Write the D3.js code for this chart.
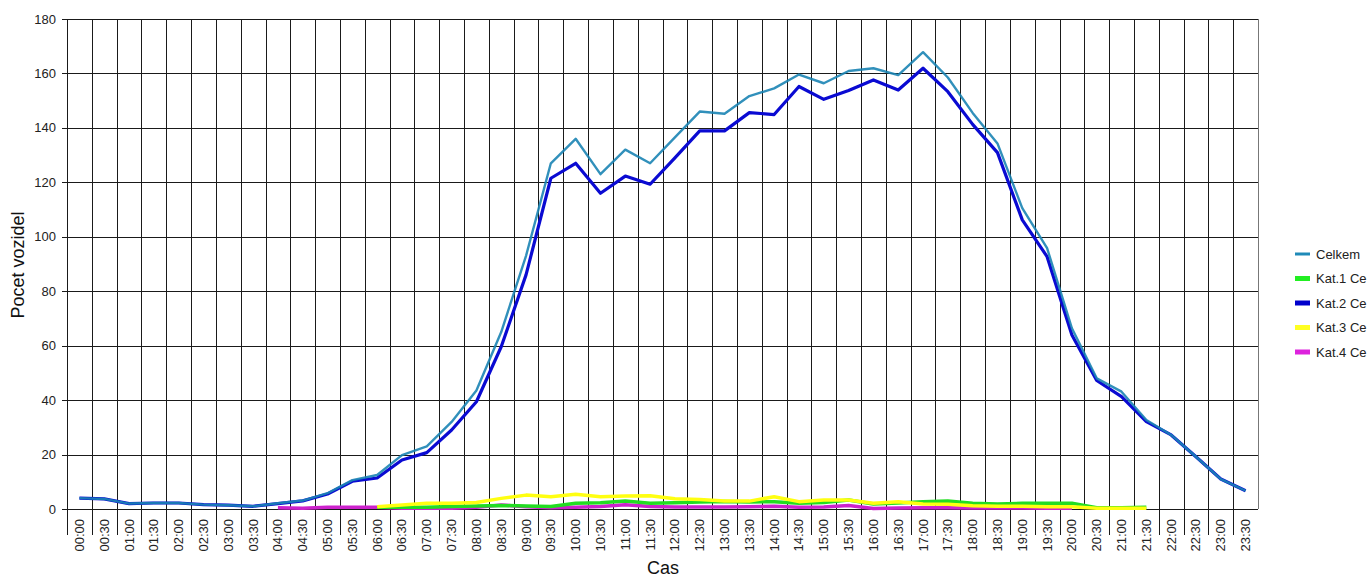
<!DOCTYPE html>
<html>
<head>
<meta charset="utf-8">
<script src="https://cdn.jsdelivr.net/npm/d3@7"></script>
<style>
  html, body { margin: 0; padding: 0; background: #fff; }
  svg { display: block; font-family: "Liberation Sans", Arial, sans-serif; }
</style>
</head>
<body>
<svg id="chart" width="1371" height="581"></svg>
<script>
// ---- data ----
const categories = ["00:00","00:30","01:00","01:30","02:00","02:30","03:00","03:30","04:00","04:30","05:00","05:30",
  "06:00","06:30","07:00","07:30","08:00","08:30","09:00","09:30","10:00","10:30","11:00","11:30",
  "12:00","12:30","13:00","13:30","14:00","14:30","15:00","15:30","16:00","16:30","17:00","17:30",
  "18:00","18:30","19:00","19:30","20:00","20:30","21:00","21:30","22:00","22:30","23:00","23:30"];

const celkem = [4,3.7,2,2.2,2.2,1.6,1.4,1,2.1,3.1,5.8,10.6,
  12.5,19.8,23,32,43.5,65,93,127,136,123,132,127,
  136.5,146,145.2,151.7,154.5,159.6,156.4,160.9,161.9,159.4,167.8,158.5,
  145.5,134.3,110.5,95.8,66.4,48,43.1,32.7,27.2,19.2,11,6.7];

const kat1 = [null,null,null,null,null,null,null,null,null,null,null,null,
  0.6,0.6,0.6,0.9,1.1,1.3,1.1,0.9,2.1,2.3,2.9,2.1,
  2.3,2.6,2.8,2.6,2.7,2.1,2.4,3.3,1.8,2.2,2.7,2.9,
  2.1,1.8,2.1,2.1,2.1,0.5,0.5,0.6,null,null,null,null];

const kat2 = [4,3.7,2,2.2,2.2,1.6,1.4,1,2,3,5.5,10.2,
  11.4,18,20.7,29,39.4,59.6,86,121.5,127,116,122.3,119.3,
  129,138.9,138.9,145.6,144.9,155.2,150.5,153.7,157.6,153.9,161.9,153.3,
  141.3,130.9,106.2,92.7,63.9,47.2,41.3,32.1,27.2,19.2,11,6.7];

const kat3 = [null,null,null,null,null,null,null,null,null,null,null,null,
  0.8,1.5,2.1,2.1,2.4,3.9,5.1,4.5,5.4,4.5,4.8,4.9,
  3.8,3.5,2.9,2.9,4.5,2.7,3.3,3.3,2.1,2.7,1.8,1.7,
  1.2,1.0,1.0,0.8,0.8,0.3,0.3,0.3,null,null,null,null];

const kat4 = [null,null,null,null,null,null,null,null,0.5,0.3,0.6,0.6,
  0.6,0.3,0.3,0.3,0.6,1.5,0.8,0.5,0.6,0.9,1.6,0.9,
  0.7,0.7,0.7,0.8,1.0,0.6,0.7,1.3,0.2,0.4,0.5,0.5,
  0.4,0.4,0.4,0.3,0.3,null,null,null,null,null,null,null];

const yTicks = [0,20,40,60,80,100,120,140,160,180];
const seriesNames = ["Celkem","Kat.1 Ce","Kat.2 Ce","Kat.3 Ce","Kat.4 Ce"];

// ---- layout ----
const svg = d3.select("#chart");
const L = 67, R = 1258, T = 19, B = 509;

const x = d3.scaleBand().domain(categories).range([L, R]).padding(0);
const y = d3.scaleLinear().domain([0, 180]).range([B, T]);
const cx = d => x(d) + x.bandwidth() / 2;

// horizontal grid
svg.append("g").selectAll("line").data(yTicks).join("line")
  .attr("x1", L - 5).attr("x2", R)
  .attr("y1", d => Math.round(y(d)) + 0.5).attr("y2", d => Math.round(y(d)) + 0.5)
  .attr("stroke", "#1a1a1a").attr("stroke-width", 1);

// vertical grid (band boundaries) extended below axis as ticks
const bounds = categories.map(c => x(c)).concat([R]);
svg.append("g").selectAll("line").data(bounds).join("line")
  .attr("x1", d => Math.round(d) + 0.5).attr("x2", d => Math.round(d) + 0.5)
  .attr("y1", T).attr("y2", (d, i) => (i === bounds.length - 1 ? B : 535))
  .attr("stroke", (d, i) => (i === bounds.length - 1 ? "#777" : "#1a1a1a"))
  .attr("stroke-width", 1);

// y tick labels
svg.append("g").selectAll("text").data(yTicks).join("text")
  .attr("x", 56).attr("y", d => y(d)).attr("dy", "0.35em")
  .attr("text-anchor", "end").attr("font-size", 13).attr("fill", "#222")
  .text(d => d);

// x tick labels rotated
svg.append("g").selectAll("text").data(categories).join("text")
  .attr("transform", d => `translate(${cx(d) + 4.5},519) rotate(-90)`)
  .attr("text-anchor", "end").attr("font-size", 13).attr("fill", "#222")
  .text(d => d);

// axis titles
svg.append("text")
  .attr("transform", "translate(24,265) rotate(-90)")
  .attr("text-anchor", "middle").attr("font-size", 18).attr("fill", "#111")
  .text("Pocet vozidel");
svg.append("text")
  .attr("x", 663).attr("y", 574)
  .attr("text-anchor", "middle").attr("font-size", 18).attr("fill", "#111")
  .text("Cas");

// lines
const series = [
  { name: seriesNames[4], values: kat4, color: "#cc22cc", width: 3.5 },
  { name: seriesNames[1], values: kat1, color: "#22dd22", width: 3.5 },
  { name: seriesNames[3], values: kat3, color: "#ffff11", width: 3.5 },
  { name: seriesNames[2], values: kat2, color: "#0a0ad2", width: 3.2 },
  { name: seriesNames[0], values: celkem, color: "#1b84b4", width: 2.4, opacity: 0.9 }
];
const line = d3.line()
  .defined(d => d.v !== null)
  .x(d => cx(d.c)).y(d => y(d.v));

svg.append("g").selectAll("path").data(series).join("path")
  .attr("d", s => line(categories.map((c, i) => ({ c, v: s.values[i] }))))
  .attr("fill", "none")
  .attr("stroke", s => s.color)
  .attr("stroke-opacity", s => s.opacity || 1)
  .attr("stroke-width", s => s.width)
  .attr("stroke-linejoin", "round")
  .attr("stroke-linecap", "butt");

// legend
const legendItems = [
  { name: seriesNames[0], color: "#1f8ab8", w: 3 },
  { name: seriesNames[1], color: "#22ee22", w: 5 },
  { name: seriesNames[2], color: "#0000cc", w: 5 },
  { name: seriesNames[3], color: "#ffff22", w: 5 },
  { name: seriesNames[4], color: "#dd22dd", w: 5 }
];
const lg = svg.append("g").selectAll("g").data(legendItems).join("g")
  .attr("transform", (d, i) => `translate(1295,${254 + i * 24.5})`);
lg.append("line").attr("x1", 0).attr("x2", 15).attr("y1", 0).attr("y2", 0)
  .attr("stroke", d => d.color).attr("stroke-width", d => d.w);
lg.append("text").attr("x", 21).attr("y", 0).attr("dy", "0.35em")
  .attr("font-size", 13).attr("fill", "#222").text(d => d.name);
</script>
</body>
</html>
